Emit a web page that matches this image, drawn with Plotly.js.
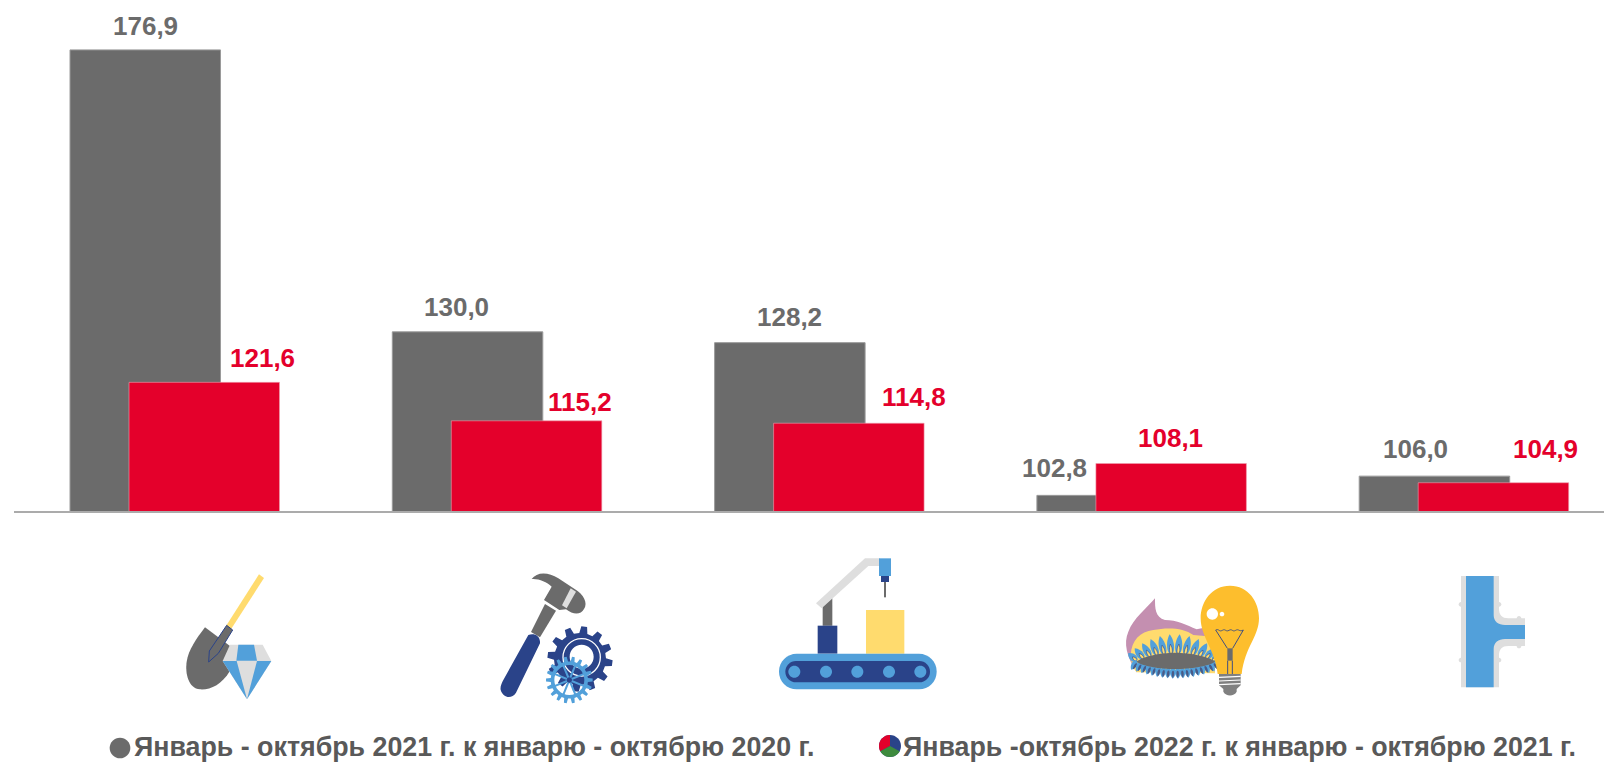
<!DOCTYPE html>
<html><head><meta charset="utf-8">
<script src="https://cdn.plot.ly/plotly-3.0.1.min.js"></script>
<style>html,body{margin:0;padding:0;background:#fff;overflow:hidden}</style>
</head><body><div id="chart" style="width:1604px;height:762px"></div>
<script>
// ---- data ----
const categories = ['Добыча полезных ископаемых','Обрабатывающие производства','Промышленное производство','Электроэнергия, газ и пар','Водоснабжение'];
const values2021 = [176.9,130.0,128.2,102.8,106.0];
const values2022 = [121.6,115.2,114.8,108.1,104.9];
const seriesNames = ['Январь - октябрь 2021 г. к январю - октябрю 2020 г.','Январь -октябрь 2022 г. к январю - октябрю 2021 г.'];

// ---- layout constants ----
const W=1604,H=762,L=14,T=0,B=251,PW=W-L,PH=H-T-B;
const GREY='#6B6B6B',RED='#E4002B',BLUE='#52A0DA',NAVY='#2A4389',LIGHT='#DEDEDE',YEL='#FFDB6E',TXT='#595959';
const unit=322.3, groupC0=174.5;
const labelDx=[[-29,-40,-30,-87,-48],[88,83,95,29,82]];
const labelDy=[[24,25,26,27,27],[24,19,26,26,34]];

// ---- shape helpers: coordinates are pixels of a 3x crop, mapped to paper ----
const shapes=[];
function toPaper(ox,oy,d){
  let i=0;
  return d.replace(/-?\d+(\.\d+)?/g,m=>{
    const v=parseFloat(m);
    const r=(i%2===0)?((ox+v/3-L)/PW):(1-(oy+v/3-T)/PH);
    i++;return r.toFixed(6);
  });
}
function add(ox,oy,d,fill,lc,lw){
  shapes.push({type:'path',xref:'paper',yref:'paper',layer:'above',path:toPaper(ox,oy,d),
    fillcolor:fill||'rgba(0,0,0,0)',line:{width:lw||0,color:lc||'rgba(0,0,0,0)'}});
}
const f=n=>n.toFixed(2);
function circ(x,y,r){const k=r*0.5523;
  return `M${f(x-r)},${f(y)} C${f(x-r)},${f(y-k)} ${f(x-k)},${f(y-r)} ${f(x)},${f(y-r)} C${f(x+k)},${f(y-r)} ${f(x+r)},${f(y-k)} ${f(x+r)},${f(y)} C${f(x+r)},${f(y+k)} ${f(x+k)},${f(y+r)} ${f(x)},${f(y+r)} C${f(x-k)},${f(y+r)} ${f(x-r)},${f(y+k)} ${f(x-r)},${f(y)} Z`;}
function rrect(x0,y0,x1,y1,r){const k=r*0.4477;
  return `M${x0+r},${y0} L${x1-r},${y0} C${x1-k},${y0} ${x1},${y0+k} ${x1},${y0+r} L${x1},${y1-r} C${x1},${y1-k} ${x1-k},${y1} ${x1-r},${y1} L${x0+r},${y1} C${x0+k},${y1} ${x0},${y1-k} ${x0},${y1-r} L${x0},${y0+r} C${x0},${y0+k} ${x0+k},${y0} ${x0+r},${y0} Z`;}
function gear(cx,cy,R,r,n,rot){let d='';const st=2*Math.PI/n;
  for(let i=0;i<n;i++){const a=(rot||0)+i*st;
    const pts=[[r,a-st*0.30],[R,a-st*0.17],[R,a+st*0.17],[r,a+st*0.30]];
    pts.forEach((p,j)=>{d+=((i===0&&j===0)?'M':'L')+f(cx+p[0]*Math.cos(p[1]))+','+f(cy+p[0]*Math.sin(p[1]))+' ';});
  }
  return d+'Z';}
function petal(x,y,ang,len,w){
  const c=Math.cos(ang),s=Math.sin(ang),nx=-s,ny=c;
  const tx=x+c*len,ty=y+s*len,mx=x+c*len*0.6,my=y+s*len*0.6;
  return `M${f(x)},${f(y)} C${f(x+nx*w*0.6)},${f(y+ny*w*0.6)} ${f(mx+nx*w*0.8)},${f(my+ny*w*0.8)} ${f(tx)},${f(ty)} C${f(mx-nx*w*0.8)},${f(my-ny*w*0.8)} ${f(x-nx*w*0.6)},${f(y-ny*w*0.6)} ${f(x)},${f(y)} Z`;
}

// Icon 1: shovel + diamond
(function(){const o=[150,540];
  add(...o,'M327,103 L342,114 L243,268 L228,258 Z',YEL);
  add(...o,'M165,262 L240,318 L240,392 C215,435 180,450 150,448 C115,445 105,400 110,365 C115,330 140,295 165,262 Z',GREY);
  add(...o,'M230,256 L248,270 L205,340 L176,366 L178,333 Z',GREY,NAVY,1);
  add(...o,'M240,314 L338,314 L364,363 L291,478 L218,363 Z',LIGHT);
  add(...o,'M265,314 L312,314 L321,362 L259,362 Z',BLUE);
  add(...o,'M218,363 L260,363 L291,478 Z',BLUE);
  add(...o,'M321,363 L364,363 L291,478 Z',BLUE);
})();
// Icon 2: hammer + gears
(function(){const o=[150,540];
  add(...o,'M1185,192 L1218,212 L1170,292 L1143,276 Z',GREY);
  add(...o,'M1145,117 C1160,95 1195,95 1225,115 L1275,148 C1300,162 1315,190 1302,207 C1292,225 1270,225 1248,208 L1228,210 L1182,180 L1205,140 C1190,125 1165,115 1145,117 Z',GREY);
  add(...o,'M1262,145 L1278,155 L1250,205 L1236,196 Z',LIGHT);
  add(...o,'M1135,285 C1150,278 1172,285 1170,310 L1098,458 C1085,478 1060,475 1052,450 C1050,440 1055,430 1060,420 Z',NAVY);
  add(...o,gear(1290,357,98,78,12,0.13)+' '+circ(1295,350,36),NAVY);
  add(...o,circ(1295,352,56),'rgba(0,0,0,0)','#FFFFFF',1.3);
  add(...o,gear(1258,420,70,56,18,0)+' '+circ(1258,420,45),BLUE);
  for(let i=0;i<8;i++){const a=i*Math.PI/4+0.39;
    add(...o,`M1258,420 L${f(1258+48*Math.cos(a))},${f(420+48*Math.sin(a))}`,null,BLUE,2);}
  add(...o,circ(1258,420,8),NAVY);
})();
// Icon 3: conveyor robot
(function(){const o=[740,540];
  add(...o,'M378,210 L493,210 L493,341 L378,341 Z',YEL);
  add(...o,'M248,195 L277,175 L277,257 L248,257 Z',GREY);
  add(...o,'M233,257 L292,257 L292,341 L233,341 Z',NAVY);
  add(...o,'M228,190 L375,55 L420,55 L420,78 L385,78 L245,205 Z',LIGHT);
  add(...o,'M417,55 L453,55 L453,108 L417,108 Z',BLUE);
  add(...o,'M423,108 L447,108 L447,126 L423,126 Z',NAVY);
  add(...o,'M432,126 L438,126 L438,172 L432,172 Z',GREY);
  add(...o,rrect(117,341,590,448,53),BLUE);
  add(...o,rrect(136,363,570,427,32),NAVY);
  [163,258,352,447,541].forEach(x=>add(...o,circ(x,395,18),BLUE));
})();
// Icon 4: gas burner + bulb
(function(){const o=[740,540];
  add(...o,'M1245,175 C1245,205 1245,232 1275,240 C1310,240 1340,255 1370,268 L1400,262 L1410,330 L1190,397 C1160,350 1150,310 1165,275 C1180,235 1220,205 1245,175 Z','#C48FB0');
  add(...o,'M1172,345 C1175,300 1200,275 1240,270 C1280,262 1330,262 1360,285 L1420,290 L1425,400 L1190,397 C1180,385 1172,365 1172,345 Z',YEL);
  for(let i=0;i<12;i++){const t=i/11;const x=1190+t*228;const y=362-Math.sin(t*Math.PI)*20;
    const a=-Math.PI/2+(t-0.5)*1.7;const len=34+Math.sin(t*Math.PI)*26;
    add(...o,petal(x,y,a,len,20),BLUE);
    add(...o,petal(x,y,a,len*0.5,8),YEL,NAVY,0.6);
  }
  for(let i=0;i<18;i++){const t=i/17;const x=1190+t*232;const y=362+Math.sin(t*Math.PI)*22;
    const a=Math.PI/2-(t-0.5)*1.1;
    add(...o,petal(x,y,a,32,16),BLUE);
    add(...o,petal(x,y+8,a,22,7),'#4A5A86');
  }
  add(...o,'M1190,365 C1205,350 1260,338 1305,338 C1350,338 1410,350 1425,365 C1410,378 1350,387 1305,387 C1260,387 1205,378 1190,365 Z',GREY);
  add(...o,'M1470,137 C1525,137 1557,185 1557,235 C1557,290 1515,320 1505,402 L1433,402 C1425,330 1382,290 1382,235 C1382,185 1415,137 1470,137 Z','#FDBE2D');
  add(...o,circ(1417,222,17),'#FFFFFF');
  add(...o,circ(1446,222,7),'#FFFFFF');
  add(...o,'M1427,270 C1437,265 1437,277 1447,271 C1457,265 1457,277 1467,271 C1477,265 1477,277 1487,271 C1497,265 1497,277 1510,270',null,NAVY,0.8);
  add(...o,'M1427,270 L1462,325 M1510,270 L1478,325 M1463,362 L1463,402 M1477,362 L1477,402',null,NAVY,0.9);
  add(...o,'M1462,325 L1478,325 L1478,362 L1462,362 Z',GREY);
  add(...o,'M1437,402 L1502,402 L1502,436 L1490,447 L1490,455 C1482,470 1458,470 1450,455 L1450,447 L1437,436 Z','#808080');
  [412,423,434].forEach(y=>add(...o,`M1437,${y} L1502,${y-3}`,null,'#FFFFFF',1.2));
})();
// Icon 5: pipe tee
(function(){const o=[1260,540];
  add(...o,'M603,108 L717,108 L717,205 C717,225 725,235 745,235 L795,235 L795,318 L745,318 C725,318 717,328 717,348 L717,442 L603,442 Z',LIGHT);
  [[603,193],[717,193],[603,360],[717,360],[777,235],[777,318]].forEach(p=>add(...o,circ(p[0],p[1],7),LIGHT));
  add(...o,'M618,108 L701,108 L701,225 C701,245 715,255 735,255 L795,255 L795,297 L735,297 C715,297 701,307 701,327 L701,442 L618,442 Z',BLUE);
})();
// Legend markers
add(0,0,circ(360,2244,31),GREY);
(function(){const cx=2670,cy=2238,r=33;const k=r*0.5523;
  add(0,0,circ(cx,cy,r),NAVY);
  add(0,0,`M${cx},${cy} L${cx},${cy-r} C${cx-k},${cy-r} ${cx-r},${cy-k} ${cx-r},${cy} C${cx-r},${cy+8} ${cx-r+2},${cy+13} ${cx-r+4},${cy+16} Z`,RED);
  add(0,0,`M${cx},${cy} L${cx-r+4},${cy+16} C${cx-r+10},${cy+26} ${cx-15},${cy+r} ${cx},${cy+r} C${cx+15},${cy+r} ${cx+r-10},${cy+26} ${cx+r-4},${cy+16} Z`,'#3E8B3E');
})();

// ---- annotations ----
const annotations=[];
[[values2021,GREY],[values2022,RED]].forEach((s,k)=>{
  s[0].forEach((v,i)=>annotations.push({xref:'x',yref:'y',x:i,y:v,text:'<b>'+v.toFixed(1).replace('.',',')+'</b>',
    showarrow:false,xanchor:'center',yanchor:'middle',xshift:labelDx[k][i],yshift:labelDy[k][i],
    font:{family:'Liberation Sans, Arial, sans-serif',size:26,color:s[1]}}));
});
[[134,seriesNames[0]],[903,seriesNames[1]]].forEach(p=>annotations.push({xref:'paper',yref:'paper',
  x:(p[0]-L)/PW,y:1-(746.5-T)/PH,text:'<b>'+p[1]+'</b>',showarrow:false,xanchor:'left',yanchor:'middle',
  xshift:-2,font:{family:'Liberation Sans, Arial, sans-serif',size:26.8,color:TXT}}));

// ---- chart ----
const barW=150.5/unit;
const traces=[
 {type:'bar',name:seriesNames[0],x:categories,y:values2021,width:barW,offset:-104.5/unit,
  marker:{color:GREY,line:{color:'#9A9A9A',width:1}},hoverinfo:'skip'},
 {type:'bar',name:seriesNames[1],x:categories,y:values2022,width:barW,offset:-45.5/unit,
  marker:{color:RED,line:{color:'#EFA0AE',width:0.6}},hoverinfo:'skip'}
];
const x0=-(groupC0-L)/unit;
const layout={width:W,height:H,margin:{l:L,r:0,t:T,b:B,pad:0},paper_bgcolor:'#fff',plot_bgcolor:'#fff',
  barmode:'overlay',showlegend:false,
  xaxis:{type:'category',range:[x0,x0+PW/unit],showgrid:false,zeroline:false,showline:true,linecolor:'#ABABAB',linewidth:2,ticks:'',showticklabels:false,fixedrange:true},
  yaxis:{range:[100.2,185.2],showgrid:false,zeroline:false,showline:false,ticks:'',showticklabels:false,fixedrange:true},
  shapes,annotations};
Plotly.newPlot('chart',traces,layout,{displayModeBar:false,staticPlot:true});
</script></body></html>
